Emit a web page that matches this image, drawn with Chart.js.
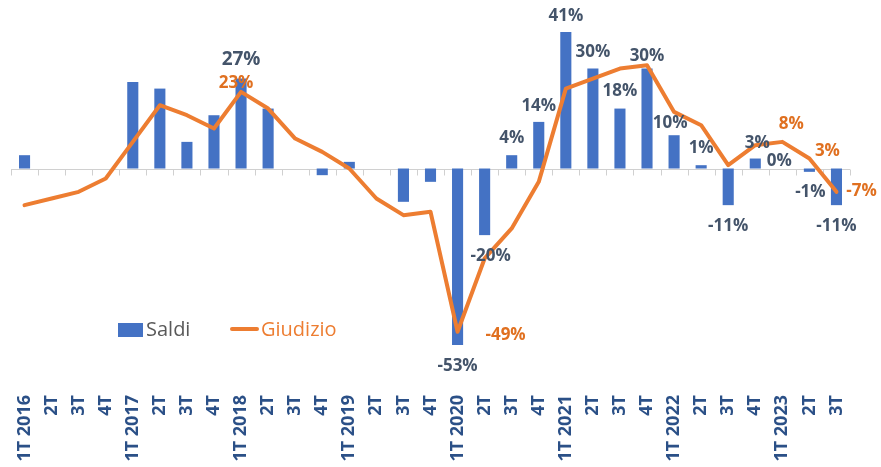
<!DOCTYPE html>
<html>
<head>
<meta charset="utf-8">
<script src="https://cdn.jsdelivr.net/npm/chart.js@4"></script>
<style>
  html, body { margin:0; padding:0; background:#fff; }
  #wrap { width:881px; height:467px; }
</style>
</head>
<body>
<div id="wrap"><canvas id="chart" width="881" height="467"></canvas></div>
<script>
// ---- data ----
const quarters = ['1T 2016','2T','3T','4T','1T 2017','2T','3T','4T','1T 2018','2T','3T','4T',
                  '1T 2019','2T','3T','4T','1T 2020','2T','3T','4T','1T 2021','2T','3T','4T',
                  '1T 2022','2T','3T','4T','1T 2023','2T','3T'];
const saldi    = [4,0,0,0,26,24,8,16,27,18,0,-2,2,0,-10,-4,-53,-20,4,14,41,30,18,30,10,1,-11,3,0,-1,-11];
const giudizio = [-11,-9,-7,-3,8,19,16,12,23,18,9,5,0,-9,-14,-13,-49,-27,-18,-4,24,27,30,31,17,13,1,7,8,3,-7];

// which points carry a value label
const saldiLabelIdx    = [8,16,17,18,19,20,21,22,23,24,25,26,27,28,29,30];
const giudizioLabelIdx = [8,16,28,29,30];

// label placement (offsets from the bar end / line point, in px)
const saldiOffsets = {
  8:[0,-19,19], 16:[0,21], 17:[6,21], 18:[0,-17], 19:[0,-16], 20:[0,-16], 21:[0,-16],
  22:[0,-17], 23:[0,-12], 24:[-4,-12], 25:[0,-17], 26:[0,21], 27:[2,-15], 28:[-3,-7],
  29:[1,20], 30:[0,21]
};
const giudizioOffsets = { 8:[-5,-9], 16:[48,3], 28:[9,-18], 29:[18,-7], 30:[25,-1] };

const BLUE = '#4472C4', ORANGE = '#ED7D31';
const LABEL_BLUE = '#44546A', LABEL_ORANGE = '#E07020';
const FONT = "'Open Sans', 'Noto Sans', sans-serif";

/* zero line with small category ticks, Excel style */
const zeroAxis = {
  id: 'zeroAxis',
  beforeDatasetsDraw(chart) {
    const { ctx, scales: { x, y }, chartArea } = chart;
    const y0 = Math.round(y.getPixelForValue(0)) + 0.5;
    const w = (chartArea.right - chartArea.left) / quarters.length;
    ctx.save();
    ctx.strokeStyle = '#D0D0D0';
    ctx.lineWidth = 1;
    ctx.beginPath();
    ctx.moveTo(chartArea.left, y0); ctx.lineTo(chartArea.right, y0);
    for (let i = 0; i <= quarters.length; i++) {
      const px = Math.round(x.getPixelForValue(i) - w / 2) + 0.5;
      ctx.moveTo(px, y0); ctx.lineTo(px, y0 + 6);
    }
    ctx.stroke();
    ctx.restore();
  }
};

/* value labels */
const valueLabels = {
  id: 'valueLabels',
  afterDatasetsDraw(chart) {
    const { ctx } = chart;
    ctx.save();
    ctx.textAlign = 'center';
    ctx.textBaseline = 'middle';
    const barMeta = chart.getDatasetMeta(0), lineMeta = chart.getDatasetMeta(1);
    saldiLabelIdx.forEach(i => {
      const el = barMeta.data[i];
      const [dx, dy, size] = saldiOffsets[i] || [0, saldi[i] < 0 ? 21 : -16];
      ctx.font = `bold ${size || 17}px ${FONT}`;
      ctx.fillStyle = LABEL_BLUE;
      ctx.fillText(`${saldi[i]}%`, el.x + dx, el.y + dy);
    });
    giudizioLabelIdx.forEach(i => {
      const el = lineMeta.data[i];
      const [dx, dy] = giudizioOffsets[i] || [0, -14];
      ctx.font = `bold 17px ${FONT}`;
      ctx.fillStyle = LABEL_ORANGE;
      ctx.fillText(`${giudizio[i]}%`, el.x + dx, el.y + dy);
    });
    ctx.restore();
  }
};

/* legend drawn inside the plot, lower left */
const innerLegend = {
  id: 'innerLegend',
  afterDraw(chart) {
    const { ctx } = chart;
    const ds = chart.data.datasets;
    ctx.save();
    ctx.font = `20px ${FONT}`;
    ctx.textBaseline = 'middle';
    ctx.fillStyle = BLUE;
    ctx.fillRect(118, 323, 25, 14);
    ctx.fillStyle = '#595959';
    ctx.fillText(ds[0].label, 146, 330);
    ctx.strokeStyle = ORANGE; ctx.lineWidth = 4; ctx.lineCap = 'round';
    ctx.beginPath(); ctx.moveTo(232, 329); ctx.lineTo(257, 329); ctx.stroke();
    ctx.fillStyle = ORANGE;
    ctx.fillText(ds[1].label, 261, 330);
    ctx.restore();
  }
};

new Chart(document.getElementById('chart'), {
  type: 'bar',
  data: {
    labels: quarters,
    datasets: [
      { type:'bar', label:'Saldi', data: saldi, backgroundColor: BLUE, borderWidth:0,
        categoryPercentage:1, barPercentage:0.41, order:2 },
      { type:'line', label:'Giudizio', data: giudizio, borderColor: ORANGE, borderWidth:4,
        pointRadius:0, tension:0, borderJoinStyle:'round', borderCapStyle:'round', fill:false, order:1 }
    ]
  },
  options: {
    responsive:false, animation:false,
    layout: { padding: { left:11, right:31, top:2, bottom:4 } },
    plugins: { legend:{ display:false }, tooltip:{ enabled:false } },
    scales: {
      x: {
        grid:{ display:false }, border:{ display:false },
        afterFit(scale) { scale.height = 93; },
        ticks:{ minRotation:90, maxRotation:90, autoSkip:false, padding:17,
                color:'#2B5087', font:{ family: FONT, size:18, weight:'bold' } }
      },
      y: { display:false, min:-60.5, max:50 }
    }
  },
  plugins: [zeroAxis, valueLabels, innerLegend]
});
</script>
</body>
</html>
